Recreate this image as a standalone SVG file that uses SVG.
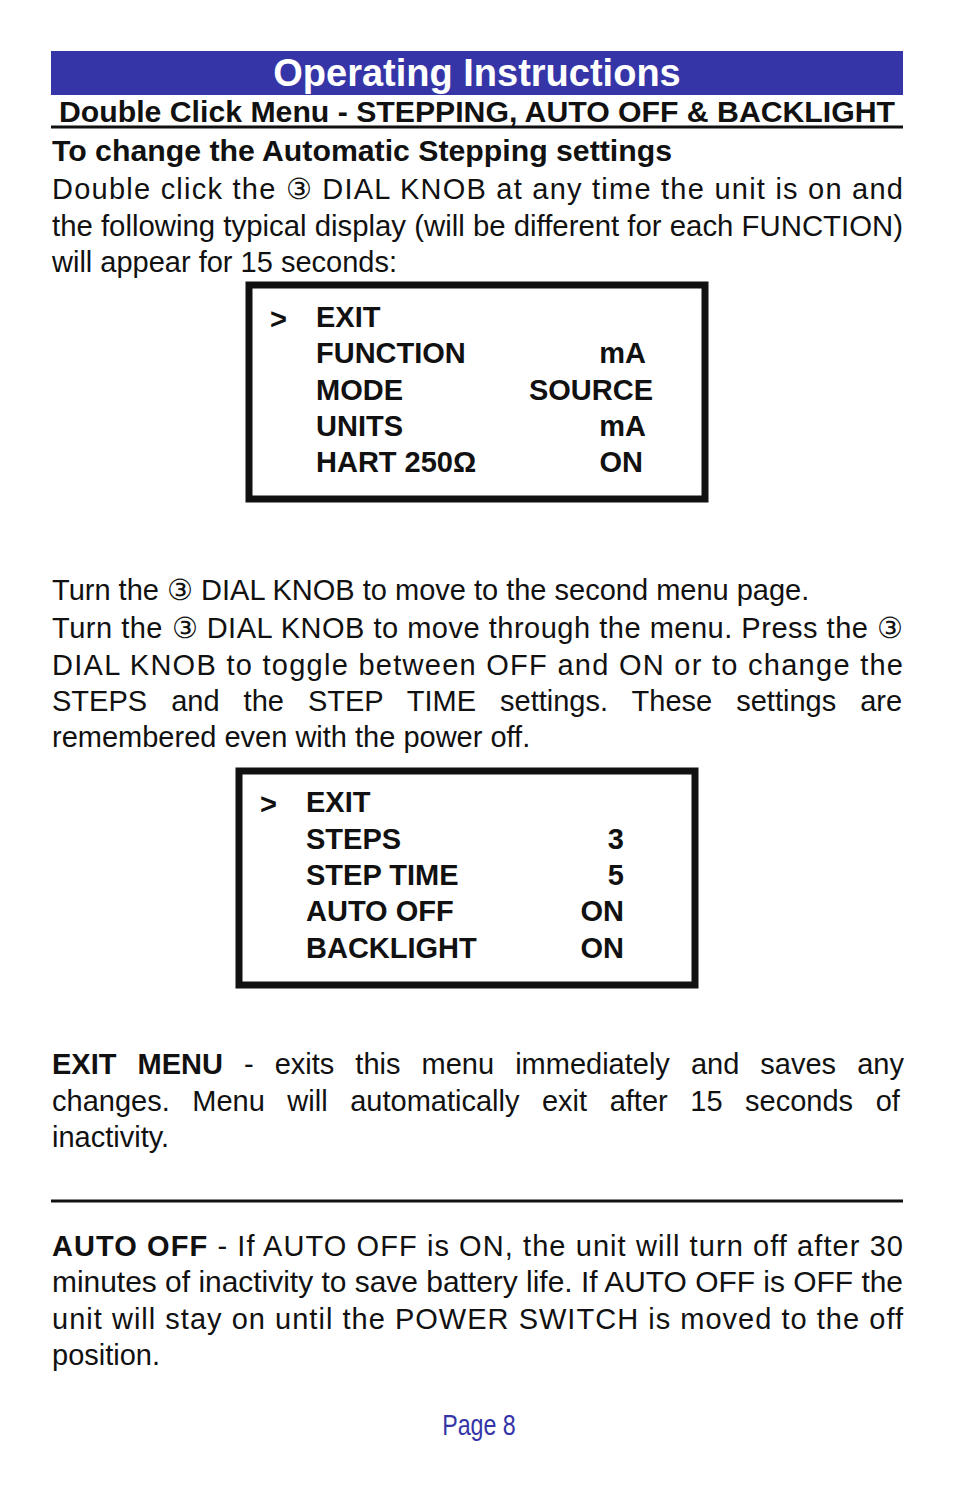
<svg xmlns="http://www.w3.org/2000/svg" width="954" height="1500" viewBox="0 0 954 1500">
<style>
text{font-family:"Liberation Sans",Arial,sans-serif;fill:#111}
.b{font-weight:bold}
.p{font-size:29px}
.m{font-size:29px;font-weight:bold}
.box{fill:none;stroke:#111;stroke-width:7}
</style>
<rect width="954" height="1500" fill="#fff"/>
<rect x="51" y="51" width="852" height="44" fill="#3535a8"/>
<text x="477" y="86" text-anchor="middle" class="b" font-size="38" style="fill:#fff">Operating Instructions</text>
<text x="477" y="122" text-anchor="middle" class="b" font-size="29" textLength="836" lengthAdjust="spacingAndGlyphs">Double Click Menu - STEPPING, AUTO OFF &amp; BACKLIGHT</text>
<line x1="51" y1="127" x2="903" y2="127" stroke="#111" stroke-width="3"/>
<text x="52" y="161" class="b" font-size="29" textLength="620" lengthAdjust="spacingAndGlyphs">To change the Automatic Stepping settings</text>
<text x="52" y="199" class="p" textLength="851">Double click the ③ DIAL KNOB at any time the unit is on and</text>
<text x="52" y="236" class="p" textLength="851" lengthAdjust="spacingAndGlyphs">the following typical display (will be different for each FUNCTION)</text>
<text x="52" y="272" class="p">will appear for 15 seconds:</text>
<g id="display1">
<rect x="249" y="285" width="456" height="214" class="box"/>
<text x="270" y="329" class="m">&gt;</text>
<text x="316" y="327" class="m">EXIT</text>
<text x="316" y="363" class="m">FUNCTION</text><text x="646" y="363" class="m" text-anchor="end">mA</text>
<text x="316" y="400" class="m">MODE</text><text x="653" y="400" class="m" text-anchor="end">SOURCE</text>
<text x="316" y="436" class="m">UNITS</text><text x="646" y="436" class="m" text-anchor="end">mA</text>
<text x="316" y="472" class="m">HART 250Ω</text><text x="643" y="472" class="m" text-anchor="end">ON</text>
</g>
<text x="52" y="600" class="p">Turn the ③ DIAL KNOB to move to the second menu page.</text>
<text x="52" y="638" class="p" textLength="851">Turn the ③ DIAL KNOB to move through the menu. Press the ③</text>
<text x="52" y="675" class="p" textLength="851">DIAL KNOB to toggle between OFF and ON or to change the</text>
<text x="52" y="711" class="p" word-spacing="16">STEPS and the STEP TIME settings. These settings are</text>
<text x="52" y="747" class="p">remembered even with the power off.</text>
<g id="display2">
<rect x="239" y="771" width="456" height="214" class="box"/>
<text x="260" y="814" class="m">&gt;</text>
<text x="306" y="812" class="m">EXIT</text>
<text x="306" y="849" class="m">STEPS</text><text x="624" y="849" class="m" text-anchor="end">3</text>
<text x="306" y="885" class="m">STEP TIME</text><text x="624" y="885" class="m" text-anchor="end">5</text>
<text x="306" y="921" class="m">AUTO OFF</text><text x="624" y="921" class="m" text-anchor="end">ON</text>
<text x="306" y="958" class="m">BACKLIGHT</text><text x="624" y="958" class="m" text-anchor="end">ON</text>
</g>
<text x="52" y="1074" class="p" word-spacing="13"><tspan class="b">EXIT MENU</tspan> - exits this menu immediately and saves any</text>
<text x="52" y="1111" class="p" word-spacing="14.5">changes. Menu will automatically exit after 15 seconds of</text>
<text x="52" y="1147" class="p">inactivity.</text>
<line x1="51" y1="1201" x2="903" y2="1201" stroke="#111" stroke-width="3"/>
<text x="52" y="1256" class="p" textLength="851"><tspan class="b">AUTO OFF</tspan> - If AUTO OFF is ON, the unit will turn off after 30</text>
<text x="52" y="1292" class="p" textLength="851" lengthAdjust="spacingAndGlyphs">minutes of inactivity to save battery life. If AUTO OFF is OFF the</text>
<text x="52" y="1329" class="p" textLength="851">unit will stay on until the POWER SWITCH is moved to the off</text>
<text x="52" y="1365" class="p">position.</text>
<text x="479" y="1435" text-anchor="middle" font-size="29" style="fill:#3535a8" transform="translate(479 0) scale(0.8 1) translate(-479 0)">Page  8</text>
</svg>
